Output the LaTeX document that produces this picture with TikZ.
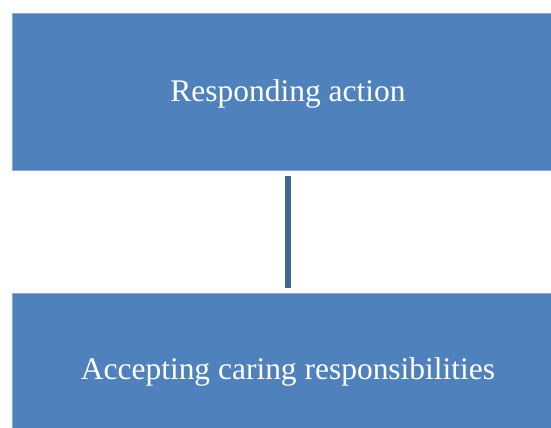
\documentclass[tikz,border=0pt]{standalone}
\usepackage{fontspec}
\setmainfont{Liberation Serif}
\usetikzlibrary{positioning}
\definecolor{boxblue}{HTML}{4F81BD}
\definecolor{boxedge}{HTML}{8EAAD6}
\definecolor{linkblue}{HTML}{3F679A}

\begin{document}
\begin{tikzpicture}[
    x=0.75pt, y=-0.75pt,
    every node/.style={font=\fontsize{23.6}{28}\selectfont},
    stage/.style={
        rectangle,
        draw=boxedge,
        line width=0.6pt,
        fill=boxblue,
        text=white,
        minimum width=414pt,
        minimum height=117.75pt,
        align=center
    },
    link/.style={
        draw=linkblue,
        line width=3.9pt
    }
]
\useasboundingbox (0,0) rectangle (551,428);
\clip (0,0) rectangle (551,428);

% Two stages one above the other
\node[stage, text height=20.8pt] (respond) at (288,91.5) {Responding action};
\node[stage] (accept) at (288,371.5) {Accepting caring responsibilities};

% Connector between stages
\draw[link, shorten >=3.8pt, shorten <=4.5pt] (respond) -- (accept);

\end{tikzpicture}
\end{document}
